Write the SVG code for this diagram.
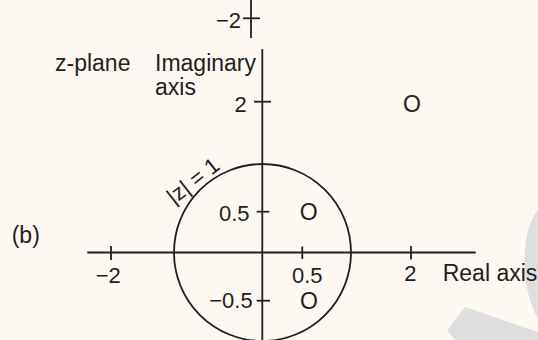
<svg xmlns="http://www.w3.org/2000/svg" width="538" height="340" viewBox="0 0 538 340">
<style>
.t{font-family:"Liberation Sans",Arial,sans-serif;font-size:23px;fill:#231f20}
.n{font-family:"Liberation Sans",Arial,sans-serif;font-size:22px;fill:#231f20}
.ax{stroke:#231f20;stroke-width:1.8;fill:none}
.wm{fill:#dedede}
</style>
<rect width="538" height="340" fill="#fdf8f1"/>
<g id="watermark">
<path class="wm" d="M538,210 C520,230 520,290 538,318 Z"/>
<path class="wm" d="M465,307 L538,332 L538,340 L455,340 L447,330 Z"/>
</g>
<g id="labels">
<text class="t" x="55" y="71">z-plane</text>
<text class="t" x="155" y="71">Imaginary</text>
<text class="t" x="155" y="95">axis</text>
<text class="t" x="11.7" y="243">(b)</text>
<text class="t" x="442.7" y="280.7">Real axis</text>
<text class="n" transform="translate(174,205) rotate(-38)">|z| = 1</text>
</g>
<g id="connectors">
<line class="ax" x1="251" y1="0" x2="251" y2="38"/>
<line class="ax" x1="243" y1="18.3" x2="260" y2="18.3"/>
<line class="ax" x1="262.3" y1="49" x2="262.3" y2="340"/>
<line class="ax" x1="87.3" y1="252.5" x2="475.7" y2="252.5"/>
<line class="ax" x1="254" y1="101.7" x2="271" y2="101.7"/>
<line class="ax" x1="256.7" y1="211.7" x2="269.3" y2="211.7"/>
<line class="ax" x1="256.7" y1="300.7" x2="270" y2="300.7"/>
<line class="ax" x1="111" y1="246" x2="111" y2="260"/>
<line class="ax" x1="302.3" y1="246.5" x2="302.3" y2="259"/>
<line class="ax" x1="411" y1="246" x2="411" y2="259.5"/>
</g>
<g id="unit-circle">
<circle class="ax" cx="262.5" cy="252.5" r="88.5"/>
</g>
<g id="tick-labels">
<text class="n" x="241" y="28" text-anchor="end">−2</text>
<text class="n" x="246.7" y="111.7" text-anchor="end">2</text>
<text class="n" x="249.5" y="221" text-anchor="end">0.5</text>
<text class="n" x="252.7" y="308.3" text-anchor="end">−0.5</text>
<text class="n" x="108.3" y="283.3" text-anchor="middle">−2</text>
<text class="n" x="307.2" y="283.3" text-anchor="middle">0.5</text>
<text class="n" x="410.3" y="280.7" text-anchor="middle">2</text>
</g>
<g id="zeros">
<text class="t" x="412" y="112" text-anchor="middle">O</text>
<text class="t" x="308.7" y="220" text-anchor="middle">O</text>
<text class="t" x="309" y="309" text-anchor="middle">O</text>
</g>
</svg>
